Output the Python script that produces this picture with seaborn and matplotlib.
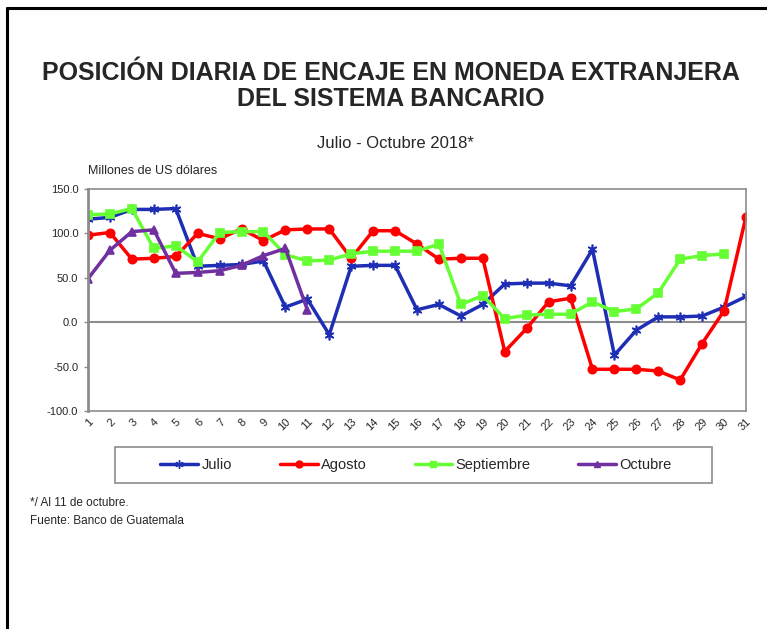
import matplotlib
matplotlib.use("Agg")
import matplotlib.pyplot as plt
import seaborn as sns
import pandas as pd
import numpy as np
from matplotlib.lines import Line2D
from matplotlib.patches import Rectangle

days = list(range(1, 32))
julio = [116, 118, 127, 127, 128, 63, 64, 65, 69, 17, 26, -14, 63, 64, 64, 14, 20, 7, 20, 43,
         44, 44, 41, 82, -37, -9, 6, 6, 7, 17, 29]
agosto = [98, 101, 71, 72, 74, 100, 94, 105, 92, 104, 105, 105, 72, 103, 103, 88, 71, 72, 72, -33,
          -7, 23, 27, -53, -53, -53, -55, -65, -24, 13, 119]
septiembre = [121, 122, 128, 83, 86, 68, 101, 102, 102, 76, 69, 70, 77, 80, 80, 80, 88, 20, 30, 4,
              8, 9, 9, 23, 12, 15, 33, 71, 75, 77]
octubre = [49, 81, 102, 104, 55, 56, 58, 64, 75, 83, 14]

series_names = ["Julio", "Agosto", "Septiembre", "Octubre"]
series_values = [julio, agosto, septiembre, octubre]
colors = {"Julio": "#1F2FB5", "Agosto": "#FF0000", "Septiembre": "#66FF33", "Octubre": "#7030A0"}
markers = {"Julio": (6, 2, 0), "Agosto": "o", "Septiembre": "s", "Octubre": "^"}
msizes = {"Julio": 7, "Agosto": 6, "Septiembre": 6, "Octubre": 6}

rows = []
for name, vals in zip(series_names, series_values):
    for d, v in zip(days, vals):
        rows.append({"Día": d, "Valor": v, "Serie": name})
df = pd.DataFrame(rows)

sns.set_style("white")
plt.rcParams['font.family'] = ['Liberation Sans', 'DejaVu Sans']

fig = plt.figure(figsize=(7.67, 6.29), dpi=100)
ax = fig.add_axes([88/767, 1-411/629, (746-88)/767, (411-189)/629])

for name in series_names:
    sub = df[df["Serie"] == name]
    sns.lineplot(data=sub, x="Día", y="Valor", ax=ax, color=colors[name], marker=markers[name],
                 markersize=msizes[name], markeredgecolor=colors[name], markeredgewidth=1.2,
                 linewidth=2.5, label=name, legend=False)

ax.axhline(0, color="#8C8C8C", linewidth=1.5, zorder=0)
ax.set_xlim(1, 31)
ax.set_ylim(-100, 150)
ax.set_yticks([-100, -50, 0, 50, 100, 150])
ax.set_yticklabels([f"{v:.1f}" for v in [-100, -50, 0, 50, 100, 150]], fontsize=8)
ax.set_xticks(days)
ax.set_xticklabels([str(d) for d in days], fontsize=8, rotation=45, ha="right", rotation_mode="anchor")
ax.set_xlabel("")
ax.set_ylabel("")
for s in ax.spines.values():
    s.set_color("#8C8C8C")
    s.set_linewidth(1.2)
ax.spines["left"].set_linewidth(2)
ax.tick_params(axis="y", length=3, width=1, color="#8C8C8C", pad=4, direction="out", left=True)
ax.tick_params(axis="x", length=0, pad=4)

# Border of the figure
fig.add_artist(Line2D([7/767, 7/767], [0, 1-8/629], color="black", linewidth=2.2, transform=fig.transFigure))
fig.add_artist(Line2D([7/767, 1], [1-8/629, 1-8/629], color="black", linewidth=2.2, transform=fig.transFigure))

fig.text(391/767, 1-80/629, "POSICIÓN DIARIA DE ENCAJE EN MONEDA EXTRANJERA", ha="center", va="baseline",
         fontsize=18, fontweight="bold")
fig.text(391/767, 1-106/629, "DEL SISTEMA BANCARIO", ha="center", va="baseline",
         fontsize=18, fontweight="bold")
fig.text(395/767, 1-143/629, "Julio - Octubre 2018*", ha="center", va="center", fontsize=12)
fig.text(88/767, 1-171/629, "Millones de US dólares", ha="left", va="center", fontsize=9)

handles = [Line2D([0], [0], color=colors[n], marker=markers[n], markersize=msizes[n] - 1,
                  markeredgecolor=colors[n], linewidth=2.5) for n in series_names]
leg = fig.legend(handles, series_names, ncol=4, loc="center",
                 bbox_to_anchor=(416/767, 1-465/629), fontsize=10.5, frameon=False,
                 handlelength=2.6, handletextpad=0.2, columnspacing=3.3)
fig.add_artist(Rectangle((115/767, 1-483/629), 597/767, 36/629, transform=fig.transFigure,
                         fill=False, edgecolor="#8C8C8C", linewidth=1.2))

fig.text(30/767, 1-503/629, "*/ Al 11 de octubre.", ha="left", va="center", fontsize=8.5)
fig.text(30/767, 1-521/629, "Fuente: Banco de Guatemala", ha="left", va="center", fontsize=8.5)

fig.savefig("out.png", dpi=100)
